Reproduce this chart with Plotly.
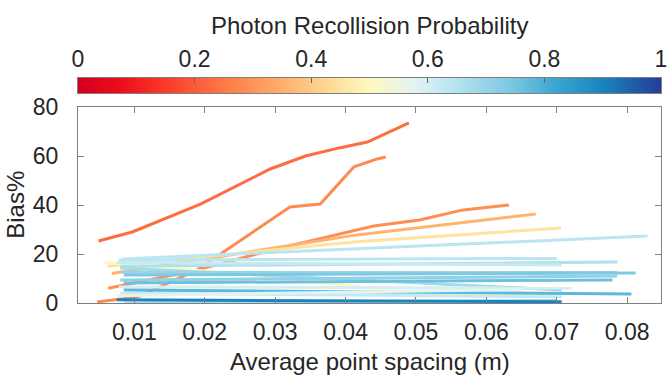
import numpy as np
import plotly.graph_objects as go
from plotly.colors import sample_colorscale

# ---- data ----
probabilities = [0.23, 0.28, 0.29, 0.36, 0.45, 0.50, 0.64,
                 0.64, 0.66, 0.62, 0.68, 0.70, 0.74, 0.71, 0.76, 0.60,
                 0.78, 0.62, 0.58, 0.68, 0.90]
spacing = [
    [0.0049, 0.0097, 0.0194, 0.0293, 0.0343, 0.0391, 0.0431, 0.0490],
    [0.0047, 0.0105, 0.0189, 0.0321, 0.0364, 0.0412, 0.0445, 0.0457],
    [0.0063, 0.0189, 0.0300, 0.0416, 0.0440, 0.0505, 0.0567, 0.0632],
    [0.0068, 0.0200, 0.0416, 0.0670],
    [0.0062, 0.0200, 0.0416, 0.0706],
    [0.0058, 0.0300, 0.0500, 0.0700],
    [0.0083, 0.0829],
    [0.0078, 0.0700],
    [0.0080, 0.0786],
    [0.0075, 0.0707],
    [0.0080, 0.0707],
    [0.0082, 0.0786],
    [0.0085, 0.0812],
    [0.0080, 0.0786],
    [0.0085, 0.0779],
    [0.0078, 0.0722],
    [0.0085, 0.0806],
    [0.0080, 0.0707],
    [0.0075, 0.0650],
    [0.0085, 0.0700],
    [0.0075, 0.0707],
]
bias = [
    [25.3, 29.0, 40.4, 54.7, 60.0, 63.3, 65.7, 73.5],
    [0.4, 2.5, 13.5, 39.2, 40.4, 55.6, 58.8, 59.6],
    [6.0, 13.5, 22.0, 29.8, 31.4, 33.9, 38.0, 40.0],
    [12.0, 18.0, 27.8, 36.3],
    [15.0, 19.0, 25.0, 30.6],
    [16.5, 10.5, 4.0, 3.0],
    [18.0, 27.3],
    [17.5, 18.2],
    [15.0, 16.7],
    [16.5, 15.5],
    [14.3, 5.3],
    [12.5, 12.4],
    [11.4, 12.2],
    [9.4, 11.0],
    [8.2, 9.4],
    [6.5, 6.1],
    [5.3, 3.7],
    [4.0, 2.5],
    [3.0, 5.5],
    [0.0, 1.0],
    [1.3, 0.5],
]
cbar_ticks = [0, 0.2, 0.4, 0.6, 0.8, 1]
x_ticks = [0.01, 0.02, 0.03, 0.04, 0.05, 0.06, 0.07, 0.08]
y_ticks = [0, 20, 40, 60, 80]

colorscale = [
    [0.00, '#d1001f'], [0.07, '#ec0c1a'], [0.15, '#fb3a2a'], [0.25, '#fd7a45'],
    [0.33, '#fea463'], [0.42, '#fed58e'], [0.50, '#fff8bf'], [0.58, '#e0f3f5'],
    [0.65, '#b5e3f0'], [0.75, '#77c5e0'], [0.82, '#3ba6d0'], [0.90, '#1a84c0'],
    [1.00, '#253c96'],
]

FONT = 'Liberation Sans, Arial, sans-serif'
TXT = '#262626'
AX = '#808080'

fig = go.Figure()

for p, xs, ys in zip(probabilities, spacing, bias):
    col = sample_colorscale(colorscale, [p])[0]
    fig.add_trace(go.Scatter(x=xs, y=ys, mode='lines',
                             line=dict(color=col, width=3),
                             showlegend=False, hoverinfo='skip',
                             xaxis='x', yaxis='y'))

# colorbar as heatmap strip
grad = np.linspace(0, 1, 400)
fig.add_trace(go.Heatmap(z=[grad], x=grad, y=[0], colorscale=colorscale,
                         zmin=0, zmax=1, showscale=False,
                         xaxis='x2', yaxis='y2', hoverinfo='skip'))

fig.update_layout(
    width=672, height=375,
    margin=dict(l=78, r=5, t=78, b=72),
    paper_bgcolor='white', plot_bgcolor='white',
    font=dict(family=FONT, size=23, color=TXT),
    xaxis=dict(domain=[0, 1], range=[0.002, 0.0848], tickvals=x_ticks,
               ticktext=[f'{v:g}' for v in x_ticks],
               ticks='inside', ticklen=6, tickcolor=AX, showline=True,
               linecolor=AX, linewidth=1, mirror='allticks', showgrid=False,
               zeroline=False, anchor='y', ticklabelstandoff=8),
    yaxis=dict(domain=[0, 0.8711], range=[0, 80], tickvals=y_ticks,
               ticks='inside', ticklen=6, tickcolor=AX, showline=True,
               linecolor=AX, linewidth=1, mirror='allticks', showgrid=False,
               zeroline=False, anchor='x', ticklabelstandoff=14),
    xaxis2=dict(domain=[0, 1], range=[0, 1], side='top', anchor='y2',
                tickvals=cbar_ticks, ticktext=[f'{v:g}' for v in cbar_ticks],
                ticks='inside', ticklen=5, tickcolor='#666666', showline=True,
                linecolor=AX, mirror=True, showgrid=False, zeroline=False,
                ticklabelstandoff=1, ticklabeloverflow='allow'),
    yaxis2=dict(domain=[0.9333, 1], range=[-0.5, 0.5], anchor='x2',
                showticklabels=False, ticks='', showline=True, linecolor=AX,
                mirror=True, showgrid=False, zeroline=False),
    annotations=[
        dict(text='Photon Recollision Probability', xref='paper', yref='paper',
             x=0.5, y=1.235, xanchor='center', yanchor='middle', showarrow=False,
             font=dict(size=24, color=TXT, family=FONT)),
        dict(text='Average point spacing (m)', xref='paper', yref='paper',
             x=0.5, y=-0.262, xanchor='center', yanchor='middle', showarrow=False,
             font=dict(size=24, color=TXT, family=FONT)),
        dict(text='Bias%', xref='paper', yref='paper', textangle=-90,
             x=-0.107, y=0.435, xanchor='center', yanchor='middle', showarrow=False,
             font=dict(size=24, color=TXT, family=FONT)),
    ],
)

fig.write_html('out.html')
